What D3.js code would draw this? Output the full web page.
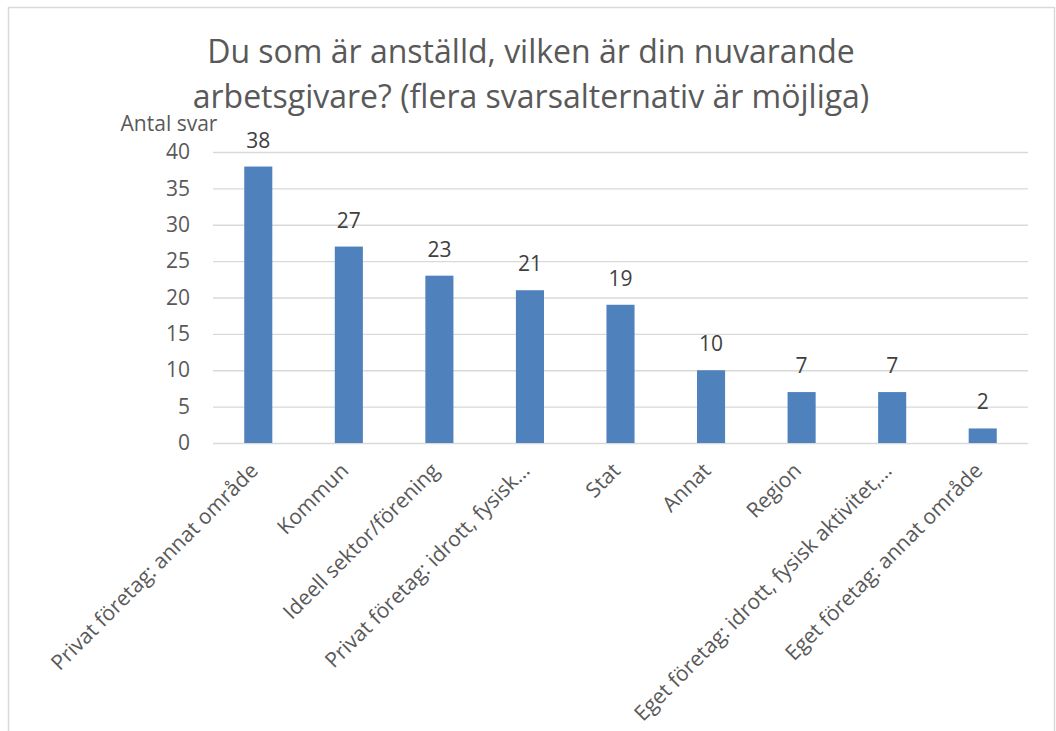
<!DOCTYPE html>
<html><head><meta charset="utf-8">
<script src="https://cdn.jsdelivr.net/npm/d3@7"></script>
<style>body{margin:0;background:#fff} svg{display:block;font-family:"Open Sans",sans-serif}</style>
</head><body><svg id="c" width="1056" height="731"></svg>
<script>
const categories = ["Privat företag: annat område","Kommun","Ideell sektor/förening","Privat företag: idrott, fysisk…","Stat","Annat","Region","Eget företag: idrott, fysisk aktivitet,…","Eget företag: annat område"];
const values = [38,27,23,21,19,10,7,7,2];
const yTicks = [0,5,10,15,20,25,30,35,40];
const titleLines = ["Du som är anställd, vilken är din nuvarande","arbetsgivare? (flera svarsalternativ är möjliga)"];
const yAxisTitle = "Antal svar";

const svg = d3.select("#c");
svg.append("rect").attr("x",8.5).attr("y",7.5).attr("width",1046).attr("height",760)
  .attr("fill","#fff").attr("stroke","#d9d9d9").attr("stroke-width",1.5);

const m = {left:213,right:1028,top:152,bottom:443};
const x = d3.scaleBand().domain(categories).range([m.left,m.right]).paddingInner(0.69).paddingOuter(0.345);
const y = d3.scaleLinear().domain([0,40]).range([m.bottom,m.top]);

const gy = svg.append("g").attr("transform",`translate(${m.left},0)`)
  .call(d3.axisLeft(y).tickValues(yTicks).tickSize(-(m.right-m.left)).tickPadding(23));
gy.select(".domain").remove();
gy.selectAll(".tick line").attr("stroke","#d9d9d9").attr("stroke-width",1.3);
gy.selectAll(".tick text").attr("fill","#595959").style("font-size","21px").style("font-family","Open Sans");

svg.append("g").selectAll("rect").data(values).join("rect")
  .attr("x",(d,i)=>x(categories[i])).attr("width",x.bandwidth())
  .attr("y",d=>y(d)).attr("height",d=>y(0)-y(d)).attr("fill","#4f81bd");

svg.append("g").selectAll("text").data(values).join("text")
  .attr("x",(d,i)=>x(categories[i])+x.bandwidth()/2).attr("y",d=>y(d)-19)
  .attr("text-anchor","middle").attr("fill","#404040").style("font-size","21px").text(d=>d);

const gx = svg.append("g").attr("transform",`translate(0,${m.bottom})`)
  .call(d3.axisBottom(x).tickSize(0));
gx.select(".domain").remove();
gx.selectAll(".tick text").attr("x",0).attr("y",0).attr("dy",0)
  .attr("transform","translate(1,29) rotate(-45)").attr("text-anchor","end")
  .attr("fill","#595959").style("font-size","21px").style("font-family","Open Sans");

const t = svg.append("text").attr("text-anchor","middle").attr("fill","#595959").style("font-size","32px");
titleLines.forEach((l,i)=>t.append("tspan").attr("x",531).attr("y",63+i*45).text(l));

svg.append("text").attr("x",169).attr("y",131).attr("text-anchor","middle")
  .attr("fill","#595959").style("font-size","21px").text(yAxisTitle);
</script></body></html>
